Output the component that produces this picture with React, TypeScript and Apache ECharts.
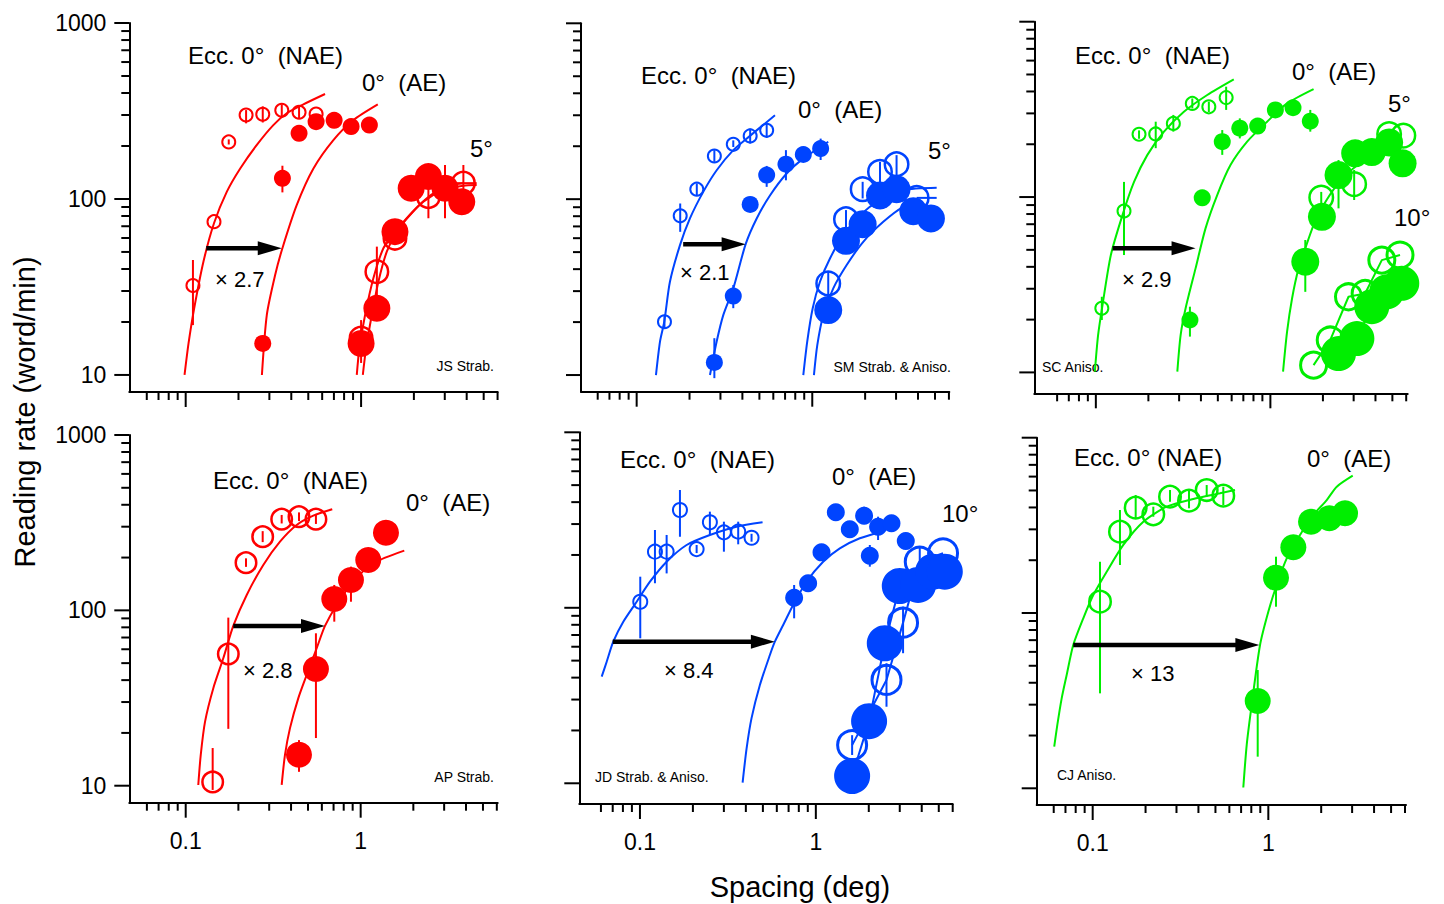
import React, { useEffect, useRef } from 'react';
import * as echarts from 'echarts';

type Row = number[]; // [x, y, errLo, errHi, xErrLo, xErrHi]

// ---------------- tick values / labels ----------------
const xMajorTicks = [0.1, 1];
const xMinorTicks = [0.06, 0.07, 0.08, 0.09, 0.2, 0.3, 0.4, 0.5, 0.6, 0.7, 0.8, 0.9, 2, 3, 4, 5, 6];
const yMajorTicks = [10, 100, 1000];
const yMinorTicks = [20, 30, 40, 50, 60, 70, 80, 90, 200, 300, 400, 500, 600, 700, 800, 900];
const xTickLabels = ['0.1', '1'];
const yTickLabels = ['10', '100', '1000'];

// ---------------- Panel 1 : JS Strab. ----------------
const p1Nae: Row[] = [
  [0.110, 32.2, 19.2, 45], [0.145, 74.3], [0.176, 211, 204, 218], [0.221, 300, 269, 320],
  [0.275, 303, 272, 336], [0.353, 319, 295, 345], [0.443, 311, 285, 335], [0.554, 304],
];
const p1Ae: Row[] = [
  [0.275, 15.1], [0.356, 131, 109, 154.5], [0.443, 236], [0.554, 275], [0.702, 280], [0.877, 258], [1.115, 263],
];
const p1E5Open: Row[] = [
  [1.0, 16.2], [1.23, 38.6, 27.8, 53.6], [1.56, 59.8], [2.42, 103, 77.7, 134], [3.83, 123, 83.2, 156, 3.43, 4.56],
];
const p1E5Fill: Row[] = [
  [1.0, 15.1, 11.7, 20.5], [1.23, 23.9], [1.56, 65.2], [1.93, 115], [2.42, 134], [3.01, 115, 77.7, 156], [3.75, 96.5],
];
const p1NaeFit = [[0.0985, 10], [0.1038, 15.1], [0.1118, 23.9], [0.1263, 44.1], [0.145, 72.8], [0.1717, 110], [0.2046, 149], [0.2545, 203], [0.316, 263], [0.377, 307], [0.469, 345], [0.623, 395]];
const p1AeFit = [[0.272, 10], [0.29, 21.9], [0.3236, 37], [0.356, 52.5], [0.43, 92.5], [0.535, 149], [0.695, 216], [0.904, 281], [1.245, 345]];
const p1E5OpenFit = [[0.945, 10], [0.978, 14.2], [1.054, 21.9], [1.175, 35.4], [1.34, 52.5], [1.528, 62.4], [1.82, 77.7], [2.265, 96.6], [2.944, 112.5], [3.83, 119], [4.56, 120]];
const p1E5FillFit = [[1.023, 10], [1.068, 14.2], [1.151, 21.9], [1.255, 33.9], [1.401, 50.2], [1.597, 65.2], [1.9, 81.1], [2.37, 101], [3.01, 117.5], [3.83, 123]];
const p1Arrow = [0.131, 52.5, 0.353];

// ---------------- Panel 2 : SM Strab. & Aniso. ----------------
const p2Nae: Row[] = [
  [0.144, 20.1, 18.5, 22], [0.177, 80.4, 65.2, 94.5], [0.22, 114, 105, 123], [0.277, 176, 163, 190],
  [0.355, 205, 198, 216], [0.443, 229, 207, 252], [0.55, 246.5, 223, 269],
];
const p2Ae: Row[] = [
  [0.277, 11.8, 9.6, 16.2], [0.355, 28.1, 24, 32.5], [0.443, 93.3], [0.55, 137, 117.5, 154.5],
  [0.708, 158, 128, 190], [0.889, 179.5], [1.116, 194, 167, 221],
];
const p2E5Open: Row[] = [
  [1.233, 33.2, 25, 39], [1.556, 76.9, 65.2, 86.7], [1.936, 114, 101, 125.5], [2.43, 143, 115, 163],
  [3.02, 158, 115, 178], [3.93, 101.7, 0, 0, 3.93, 5.11],
];
const p2E5Fill: Row[] = [
  [1.233, 23.4], [1.556, 58], [1.936, 72.1], [2.43, 105], [3.02, 114], [3.76, 85.5], [4.74, 77.7],
];
const p2NaeFit = [[0.1288, 10], [0.1358, 15.5], [0.1436, 20.1], [0.1547, 33.9], [0.1765, 54.8], [0.2011, 77.7], [0.2394, 110], [0.2855, 146], [0.355, 190], [0.4418, 229], [0.6133, 300]];
const p2AeFit = [[0.2615, 10], [0.2855, 15.5], [0.3113, 21.9], [0.355, 31.1], [0.4175, 55.5], [0.4825, 77.7], [0.5742, 105], [0.7148, 140], [0.889, 170], [1.233, 212]];
const p2E5OpenFit = [[0.889, 10], [0.936, 15.5], [1.005, 23.9], [1.106, 33.9], [1.261, 46], [1.502, 62.4], [1.869, 81.1], [2.43, 98.7], [3.3, 112.5], [5.11, 116]];
const p2E5FillFit = [[1.022, 10], [1.068, 14.8], [1.155, 21.9], [1.317, 31.1], [1.57, 42.2], [1.951, 57.2], [2.537, 74.3], [3.3, 90.4], [4.106, 96.5]];
const p2Arrow = [0.184, 55.5, 0.4175];

// ---------------- Panel 3 : SC Aniso. ----------------
const p3Nae: Row[] = [
  [0.1082, 23.2, 19.9, 27], [0.145, 83.2, 46.7, 122], [0.1768, 228, 215, 240], [0.2203, 229, 190, 269],
  [0.278, 263, 236, 294], [0.357, 342, 320, 365], [0.444, 327, 305, 350], [0.558, 369, 314, 426],
];
const p3Ae: Row[] = [
  [0.346, 19.9, 16, 23.7], [0.407, 99], [0.53, 207, 174, 241], [0.668, 247, 216, 281],
  [0.846, 254], [1.068, 314], [1.348, 323], [1.693, 271, 236, 314],
];
const p3E5Open: Row[] = [[1.956, 99.3, 92, 107], [3.02, 118.6, 96.2, 142.6], [4.79, 228.8], [5.78, 224.3]];
const p3E5Fill: Row[] = [
  [1.585, 42.8, 28.8, 56.9], [1.974, 77.2], [2.457, 133.5, 86.2, 162.6], [3.06, 177.6], [3.81, 180.6], [4.79, 205], [5.72, 155.7],
];
const p3E10Open: Row[] = [[1.768, 11.0], [2.202, 15.3], [2.803, 27.0], [3.49, 28.2], [4.35, 43.7], [5.53, 46.7]];
const p3E10Fill: Row[] = [[2.457, 12.8], [3.13, 15.6], [3.81, 23.7], [4.64, 28.8], [5.66, 32.2]];
const p3NaeFit = [[0.0987, 10.1], [0.103, 16.3], [0.1092, 24.2], [0.1219, 46.7], [0.1421, 78.9], [0.1655, 122], [0.1974, 174], [0.2457, 236], [0.3195, 306.6], [0.4347, 382], [0.617, 469]];
const p3AeFit = [[0.293, 10.1], [0.306, 16.3], [0.3268, 23.2], [0.3727, 39.2], [0.425, 66.3], [0.4959, 102.7], [0.5907, 152.2], [0.736, 207], [0.9575, 269], [1.246, 342], [1.768, 413]];
const p3E5Fit = [[1.182, 10.1], [1.246, 17], [1.331, 26.4], [1.451, 39.2], [1.585, 51], [1.768, 69.2], [2.017, 90], [2.405, 117], [2.992, 145.8], [3.893, 174], [5.066, 198]];
const p3Arrow = [0.1246, 51, 0.3727];

// ---------------- Panel 4 : AP Strab. ----------------
const p4Nae: Row[] = [
  [0.1426, 10.5, 9.46, 16.4], [0.1752, 56.4, 21.1, 90.9], [0.2211, 187, 177, 198], [0.2754, 263, 245, 283],
  [0.3536, 331, 313, 350], [0.444, 342, 323, 362], [0.555, 331, 311, 352],
];
const p4Ae: Row[] = [
  [0.444, 15.0, 12, 18.2], [0.555, 46.3, 18.7, 74], [0.7066, 116, 86.2, 139.6], [0.88, 149, 112, 177.5], [1.105, 194], [1.395, 277],
];
const p4NaeFit = [[0.118, 10.1], [0.1219, 15], [0.129, 23.2], [0.1438, 36], [0.164, 53.3], [0.187, 81.5], [0.2232, 122.4], [0.2776, 181.5], [0.3458, 246.4], [0.4308, 306.8], [0.536, 346.7], [0.688, 377]];
const p4AeFit = [[0.3536, 10.1], [0.3693, 15], [0.3945, 21.3], [0.4398, 31.5], [0.4913, 42.8], [0.5605, 60.8], [0.6252, 81.5], [0.7292, 107.4], [0.907, 145.8], [1.18, 185.6], [1.775, 219]];
const p4Arrow = [0.187, 81.5, 0.6252];

// ---------------- Panel 5 : JD Strab. & Aniso. ----------------
const p5Nae: Row[] = [
  [0.1004, 108.3, 67, 150.4], [0.1217, 208.8, 138, 277.5], [0.1418, 208.8, 157, 260], [0.1688, 360.8, 254, 469],
  [0.21, 216, 205, 228], [0.2498, 307, 260, 353], [0.3001, 269, 208.8, 309.5], [0.3619, 271.5, 230, 309.5], [0.431, 250.8, 238, 264],
];
const p5Ae: Row[] = [
  [0.7527, 114.2, 87.1, 134.9], [0.904, 138], [1.077, 207], [1.299, 350], [1.56, 280], [1.881, 334.8, 300, 376.8],
  [2.027, 198, 171.5, 228], [2.259, 289.8, 243.4, 330.5], [2.692, 303], [3.246, 240],
];
const p5E10Open: Row[] = [
  [1.608, 16.5, 14.5, 18.8], [2.522, 38.8, 27.3, 48.3], [3.133, 82.3, 55.1, 101.5], [3.898, 183, 171.5, 222.6], [5.288, 204.4],
];
const p5E10Fill: Row[] = [[1.608, 11.0], [2.008, 22.6], [2.466, 62.8], [3.001, 133.1], [3.814, 134.9], [4.64, 160.6], [5.41, 160.6]];
const p5NaeFit = [[0.0606, 40.5], [0.0647, 49.3], [0.0705, 64.1], [0.0804, 83.3], [0.0958, 108.3], [0.114, 140.8], [0.1418, 183], [0.1842, 228], [0.2498, 260], [0.3543, 289.8], [0.4979, 307]];
const p5AeFit = [[0.3834, 10.1], [0.404, 15.8], [0.431, 23.5], [0.4807, 36.3], [0.548, 53.8], [0.5848, 64.1], [0.6521, 79.8], [0.743, 103.8], [0.8855, 140.8], [1.1, 183], [1.369, 218.3], [1.778, 248.9], [2.362, 271.5]];
const p5Arrow = [0.07, 64.1, 0.5848];

// ---------------- Panel 6 : CJ Aniso. ----------------
const p6Nae: Row[] = [
  [0.1101, 116, 34.8, 196], [0.143, 290.9, 187.8, 386.9], [0.1757, 398.7, 348, 471], [0.2214, 365.6, 354, 404],
  [0.2756, 460.8, 431, 503], [0.3535, 437, 395.7, 503], [0.4458, 503, 461, 537], [0.5543, 467, 413, 525],
];
const p6Ae: Row[] = [
  [0.8701, 31.5, 15.15, 47.3], [1.106, 159, 108.6, 209.5], [1.388, 237], [1.751, 331.7], [2.226, 346.9], [2.734, 370.5],
];
const p6NaeFit = [[0.0604, 17.3], [0.0629, 23], [0.0666, 32.6], [0.0711, 44.3], [0.0775, 65.7], [0.0884, 93.3], [0.1008, 126.6], [0.1202, 172], [0.1494, 244.4], [0.1942, 331.7], [0.2638, 404], [0.374, 447], [0.5308, 481.7], [0.6462, 503]];
const p6AeFit = [[0.7204, 10.1], [0.7534, 17.7], [0.8041, 29.9], [0.897, 65.7], [1.0, 101.7], [1.116, 144.4], [1.273, 205], [1.515, 278.6], [1.804, 362.2], [2.151, 441], [2.453, 525.4], [3.024, 607]];
const p6Arrow = [0.0775, 65.7, 0.889];

// ---------------- layout / styling ----------------
const RED = '#ff0000';
const BLUE = '#0044ff';
const GREEN = '#00ee00';
const FONT = 'Liberation Sans, Arial, Helvetica, sans-serif';

const PANELS = [
  { L: 129.3, R: 497.7, T: 23, B: 392, xmin: 0.0477, xmax: 6.01, ymin: 8.0, yLab: true, xLab: false },
  { L: 581, R: 949.3, T: 23.3, B: 391.7, xmin: 0.0482, xmax: 6.03, ymin: 8.04, yLab: false, xLab: false },
  { L: 1034.3, R: 1407.7, T: 21.7, B: 393.3, xmin: 0.0444, xmax: 6.12, ymin: 7.6, yLab: false, xLab: false },
  { L: 129.3, R: 497.7, T: 435, B: 802.7, xmin: 0.0476, xmax: 6.07, ymin: 8.0, yLab: true, xLab: true },
  { L: 579.3, R: 952.7, T: 432.3, B: 804, xmin: 0.0452, xmax: 6.0, ymin: 7.62, yLab: false, xLab: true },
  { L: 1036.7, R: 1406, T: 437.7, B: 805, xmin: 0.048, xmax: 6.08, ymin: 8.03, yLab: false, xLab: true },
];

type PanelCfg = {
  color: string;
  fits: number[][][];
  links?: Row[][];
  open: [Row[], number, number][]; // data, radius, border width
  fill: [Row[], number][];
  arrow: number[];
};

const PANEL_DATA: PanelCfg[] = [
  { color: RED, fits: [p1NaeFit, p1AeFit, p1E5OpenFit, p1E5FillFit], open: [[p1Nae, 7.5, 2], [p1E5Open, 12.5, 2.5]], fill: [[p1Ae, 8.5], [p1E5Fill, 13.5]], arrow: p1Arrow },
  { color: BLUE, fits: [p2NaeFit, p2AeFit, p2E5OpenFit, p2E5FillFit], open: [[p2Nae, 7.5, 2], [p2E5Open, 13, 2.5]], fill: [[p2Ae, 8.5], [p2E5Fill, 14]], arrow: p2Arrow },
  { color: GREEN, fits: [p3NaeFit, p3AeFit, p3E5Fit], links: [p3E10Open, p3E10Fill], open: [[p3Nae, 7.5, 2], [p3E5Open, 13, 2.5], [p3E10Open, 14.5, 3]], fill: [[p3Ae, 8.5], [p3E5Fill, 14], [p3E10Fill, 17.5]], arrow: p3Arrow },
  { color: RED, fits: [p4NaeFit, p4AeFit], open: [[p4Nae, 11.5, 2.5]], fill: [[p4Ae, 13]], arrow: p4Arrow },
  { color: BLUE, fits: [p5NaeFit, p5AeFit], links: [p5E10Open, p5E10Fill], open: [[p5Nae, 8, 2], [p5E10Open, 16, 3]], fill: [[p5Ae, 9], [p5E10Fill, 18]], arrow: p5Arrow },
  { color: GREEN, fits: [p6NaeFit, p6AeFit], open: [[p6Nae, 12, 2.5]], fill: [[p6Ae, 13]], arrow: p6Arrow },
];

const NOTES: [string, number, number, string, number][] = [
  ['Ecc. 0°  (NAE)', 188, 55, 'left', 24],
  ['0°  (AE)', 362, 82, 'left', 24],
  ['5°', 470, 148, 'left', 24],
  ['× 2.7', 215, 279, 'left', 22],
  ['JS Strab.', 494, 366, 'right', 14],
  ['Ecc. 0°  (NAE)', 641, 75, 'left', 24],
  ['0°  (AE)', 798, 109, 'left', 24],
  ['5°', 928, 150, 'left', 24],
  ['× 2.1', 680, 272, 'left', 22],
  ['SM Strab. & Aniso.', 951, 367, 'right', 14],
  ['Ecc. 0°  (NAE)', 1075, 55, 'left', 24],
  ['0°  (AE)', 1292, 71, 'left', 24],
  ['5°', 1388, 103, 'left', 24],
  ['10°', 1394, 217, 'left', 24],
  ['× 2.9', 1122, 279, 'left', 22],
  ['SC Aniso.', 1042, 367, 'left', 14],
  ['Ecc. 0°  (NAE)', 213, 480, 'left', 24],
  ['0°  (AE)', 406, 502, 'left', 24],
  ['× 2.8', 243, 670, 'left', 22],
  ['AP Strab.', 494, 777, 'right', 14],
  ['Ecc. 0°  (NAE)', 620, 459, 'left', 24],
  ['0°  (AE)', 832, 476, 'left', 24],
  ['10°', 942, 513, 'left', 24],
  ['× 8.4', 664, 670, 'left', 22],
  ['JD Strab. & Aniso.', 595, 777, 'left', 14],
  ['Ecc. 0° (NAE)', 1074, 457, 'left', 24],
  ['0°  (AE)', 1307, 458, 'left', 24],
  ['× 13', 1131, 673, 'left', 22],
  ['CJ Aniso.', 1057, 775, 'left', 14],
];

function textStyle(text: string, size: number, align: string) {
  return {
    text, fontSize: size, fontFamily: FONT, fill: '#000',
    align, verticalAlign: 'middle', textAlign: align, textVerticalAlign: 'middle',
  };
}

function buildSeries(): any[] {
  const out: any[] = [];
  PANELS.forEach((p, i) => {
    const cfg = PANEL_DATA[i];
    const col = cfg.color;
    const axes = { xAxisIndex: i, yAxisIndex: i };
    // fitted curves
    cfg.fits.forEach((fit) => {
      out.push({
        type: 'line', ...axes, data: fit, symbol: 'none', showSymbol: false, smooth: 0.25, silent: true, z: 2,
        lineStyle: { color: col, width: 2 }, clip: false,
      });
    });
    (cfg.links || []).forEach((pts) => {
      out.push({
        type: 'line', ...axes, data: pts.map((r) => [r[0], r[1]]), symbol: 'none', showSymbol: false, silent: true, z: 2,
        lineStyle: { color: col, width: 2 }, clip: false,
      });
    });
    // error bars
    const errData: number[][] = [];
    [...cfg.open.map((o) => o[0]), ...cfg.fill.map((f) => f[0])].forEach((rows) => {
      rows.forEach((r) => {
        if ((r[2] || 0) > 0 || (r[4] || 0) > 0) errData.push([r[0], r[1], r[2] || 0, r[3] || 0, r[4] || 0, r[5] || 0]);
      });
    });
    out.push({
      type: 'custom', ...axes, data: errData, encode: { x: 0, y: 1 }, z: 3, silent: true, clip: false,
      renderItem: (_params: any, api: any) => {
        const x = api.value(0), y = api.value(1), lo = api.value(2), hi = api.value(3), xlo = api.value(4), xhi = api.value(5);
        const children: any[] = [];
        if (lo > 0 && hi > 0) {
          const a = api.coord([x, lo]);
          const b = api.coord([x, hi]);
          children.push({ type: 'line', shape: { x1: a[0], y1: a[1], x2: b[0], y2: b[1] }, style: { stroke: col, lineWidth: 2 } });
        }
        if (xlo > 0 && xhi > 0) {
          const a = api.coord([xlo, y]);
          const b = api.coord([xhi, y]);
          children.push({ type: 'line', shape: { x1: a[0], y1: a[1], x2: b[0], y2: b[1] }, style: { stroke: col, lineWidth: 2 } });
        }
        return { type: 'group', children };
      },
    });
    // open markers
    cfg.open.forEach(([rows, r, bw]) => {
      out.push({
        type: 'scatter', ...axes, data: rows.map((q) => [q[0], q[1]]), symbol: 'circle', symbolSize: 2 * r - bw, z: 4,
        silent: true, clip: false,
        itemStyle: { color: 'rgba(0,0,0,0)', borderColor: col, borderWidth: bw, opacity: 1 },
      });
    });
    // filled markers
    cfg.fill.forEach(([rows, r]) => {
      out.push({
        type: 'scatter', ...axes, data: rows.map((q) => [q[0], q[1]]), symbol: 'circle', symbolSize: 2 * r, z: 5,
        silent: true, clip: false, itemStyle: { color: col, opacity: 1 },
      });
    });
    // shift arrow
    out.push({
      type: 'custom', ...axes, data: [cfg.arrow], encode: { x: 0, y: 1 }, z: 6, silent: true, clip: false,
      renderItem: (_params: any, api: any) => {
        const a = api.coord([api.value(0), api.value(1)]);
        const b = api.coord([api.value(2), api.value(1)]);
        const head = 24, hw = 7;
        return {
          type: 'group',
          children: [
            { type: 'line', shape: { x1: a[0], y1: a[1], x2: b[0] - head + 2, y2: b[1] }, style: { stroke: '#000', lineWidth: 4.5 } },
            { type: 'polygon', shape: { points: [[b[0], b[1]], [b[0] - head, b[1] - hw], [b[0] - head, b[1] + hw]] }, style: { fill: '#000' } },
          ],
        };
      },
    });
    // axis ticks & tick labels
    const tickData: number[][] = [];
    xMinorTicks.forEach((v) => tickData.push([v, p.ymin, 0]));
    xMajorTicks.forEach((v) => tickData.push([v, p.ymin, 1]));
    yMinorTicks.forEach((v) => tickData.push([p.xmin, v, 2]));
    yMajorTicks.forEach((v) => tickData.push([p.xmin, v, 3]));
    if (p.xLab) xMajorTicks.forEach((v) => tickData.push([v, p.ymin, 4]));
    if (p.yLab) yMajorTicks.forEach((v) => tickData.push([p.xmin, v, 5]));
    out.push({
      type: 'custom', ...axes, data: tickData, encode: { x: 0, y: 1 }, z: 10, silent: true, clip: false,
      renderItem: (_params: any, api: any) => {
        const a = api.value(0), b = api.value(1), k = api.value(2);
        const pt = api.coord([a, b]);
        if (k === 0 || k === 1) {
          const len = k === 1 ? 15 : 8;
          return { type: 'line', shape: { x1: pt[0], y1: pt[1], x2: pt[0], y2: pt[1] + len }, style: { stroke: '#000', lineWidth: 2 } };
        }
        if (k === 2 || k === 3) {
          const len = k === 3 ? 15 : 8;
          return { type: 'line', shape: { x1: pt[0] - len, y1: pt[1], x2: pt[0], y2: pt[1] }, style: { stroke: '#000', lineWidth: 2 } };
        }
        if (k === 4) {
          const idx = xMajorTicks.findIndex((v) => Math.abs(v - a) < 1e-9);
          return { type: 'text', x: pt[0], y: pt[1] + 38, style: textStyle(xTickLabels[idx], 23, 'center') };
        }
        const idy = yMajorTicks.findIndex((v) => Math.abs(v - b) < 1e-6);
        return { type: 'text', x: pt[0] - 23, y: pt[1], style: textStyle(yTickLabels[idy], 23, 'right') };
      },
    });
  });
  return out;
}

export default function App() {
  const ref = useRef<HTMLDivElement>(null);
  useEffect(() => {
    if (!ref.current) return;
    const chart = echarts.init(ref.current, null, { renderer: 'svg' });
    const option: any = {
      animation: false,
      backgroundColor: '#ffffff',
      grid: PANELS.map((p) => ({
        left: p.L, top: p.T, width: p.R - p.L, height: p.B - p.T, containLabel: false, outerBoundsMode: 'none',
      })),
      xAxis: PANELS.map((p, i) => ({
        type: 'log', logBase: 10, gridIndex: i, min: p.xmin, max: p.xmax, position: 'bottom',
        axisLine: { show: true, onZero: false, lineStyle: { color: '#000', width: 2 } },
        axisTick: { show: false }, axisLabel: { show: false }, splitLine: { show: false },
        minorTick: { show: false }, minorSplitLine: { show: false },
      })),
      yAxis: PANELS.map((p, i) => ({
        type: 'log', logBase: 10, gridIndex: i, min: p.ymin, max: 1000, position: 'left',
        axisLine: { show: true, onZero: false, lineStyle: { color: '#000', width: 2 } },
        axisTick: { show: false }, axisLabel: { show: false }, splitLine: { show: false },
        minorTick: { show: false }, minorSplitLine: { show: false },
      })),
      series: buildSeries(),
      graphic: {
        elements: [
          ...NOTES.map(([t, x, y, al, sz]) => ({ type: 'text', x, y, silent: true, style: textStyle(t, sz, al) })),
          { type: 'text', x: 25, y: 412, rotation: Math.PI / 2, silent: true, style: textStyle('Reading rate (word/min)', 29, 'center') },
          { type: 'text', x: 800, y: 887, silent: true, style: textStyle('Spacing (deg)', 29, 'center') },
        ],
      },
    };
    chart.setOption(option);
    return () => chart.dispose();
  }, []);
  return <div ref={ref} style={{ position: 'absolute', left: 0, top: 0, width: 1444, height: 904, background: '#fff' }} />;
}
